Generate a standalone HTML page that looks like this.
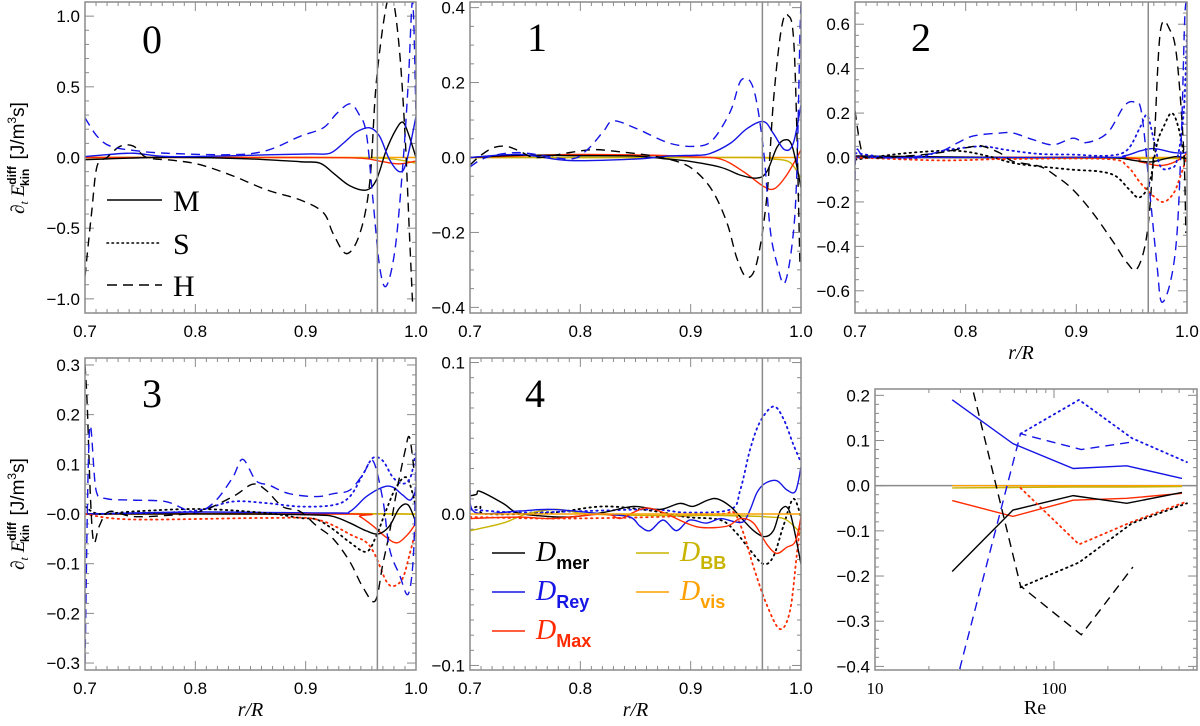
<!DOCTYPE html>
<html><head><meta charset="utf-8"><style>
html,body{margin:0;padding:0;background:#fff;width:1200px;height:726px;overflow:hidden}
svg{display:block}
</style></head><body>
<svg id="fig" width="1200" height="726" viewBox="0 0 1200 726" xmlns="http://www.w3.org/2000/svg" font-family="Liberation Sans, sans-serif"></svg>
<script>
// ---------- data ----------
const xTicksR = [0.7, 0.8, 0.9, 1.0];
const rCut = 0.965;
// panel 0
const p0_merH = [[0.7,-0.84],[0.706,-0.39],[0.711,-0.06],[0.72,0.0],[0.732,0.08],[0.744,0.08],[0.756,0],[0.78,-0.02],[0.804,-0.05],[0.834,-0.13],[0.865,-0.23],[0.895,-0.3],[0.916,-0.39],[0.925,-0.54],[0.937,-0.68],[0.949,-0.54],[0.958,-0.18],[0.964,0.53],[0.973,1.07],[0.979,1.12],[0.985,0.76],[0.99,0.17],[0.994,-0.53],[0.997,-1.05]];
const p0_reyH = [[0.7,0.28],[0.711,0.15],[0.723,0.08],[0.744,0.05],[0.774,0.03],[0.834,0.02],[0.865,0.05],[0.895,0.15],[0.916,0.21],[0.928,0.31],[0.94,0.38],[0.948,0.31],[0.955,0.17],[0.961,-0.3],[0.967,-0.77],[0.973,-0.91],[0.981,-0.65],[0.988,-0.06],[0.993,0.53],[0.997,1.1],[1.0,0.3]];
const p0_merM = [[0.7,-0.015],[0.72,-0.01],[0.76,0],[0.8,0],[0.85,-0.01],[0.895,-0.03],[0.913,-0.04],[0.925,-0.11],[0.94,-0.2],[0.955,-0.23],[0.964,-0.16],[0.973,0.05],[0.982,0.2],[0.988,0.25],[0.993,0.17],[1.0,0.0]];
const p0_reyM = [[0.7,0.007],[0.72,0.02],[0.744,0.03],[0.774,0.007],[0.82,0.01],[0.87,0.02],[0.905,0.025],[0.922,0.03],[0.934,0.1],[0.946,0.18],[0.958,0.21],[0.967,0.15],[0.976,-0.015],[0.985,-0.1],[0.991,-0.04],[1.0,0.29]];
const p0_maxM = [[0.7,0],[0.9,0],[0.95,-0.005],[0.97,-0.03],[0.985,-0.045],[1.0,-0.025]];
const p0_bbM = [[0.7,0],[0.9,0],[0.97,-0.005],[1.0,-0.04]];
const p0_visM = [[0.7,0],[1.0,0]];
// panel 1
const p1_merH = [[0.7,-0.02],[0.709,0.004],[0.721,0.026],[0.733,0.03],[0.745,0.017],[0.76,0],[0.79,0.013],[0.812,0.021],[0.836,0.015],[0.866,0.004],[0.89,-0.013],[0.905,-0.038],[0.92,-0.09],[0.933,-0.175],[0.942,-0.27],[0.951,-0.32],[0.96,-0.28],[0.969,-0.106],[0.975,0.15],[0.982,0.34],[0.988,0.38],[0.994,0.28],[0.999,-0.28]];
const p1_reyH = [[0.7,-0.025],[0.715,0],[0.745,0.013],[0.79,-0.004],[0.806,0.02],[0.821,0.07],[0.83,0.098],[0.851,0.077],[0.881,0.038],[0.905,0.03],[0.92,0.047],[0.936,0.123],[0.946,0.207],[0.957,0.183],[0.966,0.02],[0.972,-0.19],[0.978,-0.28],[0.985,-0.336],[0.992,-0.23],[0.996,-0.06],[0.999,0.32],[1.0,0.41]];
const p1_merM = [[0.7,0],[0.745,0.006],[0.8,0.005],[0.85,0.004],[0.875,-0.003],[0.896,-0.009],[0.927,-0.026],[0.945,-0.047],[0.96,-0.055],[0.969,-0.038],[0.978,0.026],[0.985,0.047],[0.992,0.03],[1.0,-0.08]];
const p1_reyM = [[0.7,0],[0.745,0.008],[0.79,-0.008],[0.85,-0.004],[0.881,0.004],[0.905,0.006],[0.917,0.01],[0.936,0.038],[0.951,0.077],[0.966,0.096],[0.975,0.064],[0.985,0.021],[0.993,0.038],[1.0,0.14]];
const p1_maxM = [[0.7,0],[0.79,0.008],[0.866,0.006],[0.9,0.002],[0.927,-0.004],[0.948,-0.038],[0.966,-0.077],[0.976,-0.083],[0.987,-0.047],[1.0,0.02]];
const p1_bbM = [[0.7,0],[0.9,0],[0.96,0],[0.975,-0.004],[0.99,-0.013],[1.0,-0.055]];
const p1_visM = [[0.7,0],[1.0,0]];
// panel 2
const p2_merH = [[0.7,0.21],[0.705,0.05],[0.71,0],[0.747,0.007],[0.777,0.022],[0.807,0.05],[0.816,0.05],[0.831,0.02],[0.843,-0.018],[0.867,-0.04],[0.882,-0.085],[0.897,-0.145],[0.915,-0.25],[0.934,-0.385],[0.946,-0.475],[0.955,-0.5],[0.964,-0.34],[0.97,0.034],[0.976,0.57],[0.985,0.57],[0.991,0.44],[0.997,0.034],[0.999,-0.34]];
const p2_reyH = [[0.7,-0.1],[0.7015,0.034],[0.71,0.004],[0.747,0],[0.777,0.027],[0.792,0.064],[0.807,0.097],[0.831,0.11],[0.843,0.11],[0.861,0.08],[0.879,0.057],[0.897,0.087],[0.909,0.067],[0.928,0.11],[0.943,0.23],[0.952,0.25],[0.959,0.2],[0.967,-0.19],[0.973,-0.49],[0.977,-0.65],[0.985,-0.56],[0.991,-0.34],[0.995,0.11],[0.998,0.63],[1.0,0.7]];
const p2_merS = [[0.7,-0.01],[0.747,0.02],[0.792,0.03],[0.822,0.004],[0.843,-0.025],[0.867,-0.04],[0.897,-0.055],[0.921,-0.063],[0.936,-0.085],[0.948,-0.145],[0.957,-0.18],[0.966,-0.115],[0.973,0.064],[0.979,0.14],[0.986,0.2],[0.992,0.14],[0.998,-0.01]];
const p2_reyS = [[0.7,0.02],[0.747,-0.007],[0.777,0.027],[0.792,0.04],[0.816,0.05],[0.837,0.034],[0.867,0.016],[0.897,0.013],[0.928,0.008],[0.946,0.034],[0.958,0.14],[0.964,0.19],[0.97,0.08],[0.976,-0.04],[0.985,-0.048],[0.991,-0.01],[0.997,0.2],[1.0,0.56]];
const p2_maxS = [[0.7,0],[0.777,-0.013],[0.837,-0.007],[0.928,-0.007],[0.946,-0.04],[0.958,-0.115],[0.97,-0.175],[0.979,-0.2],[0.988,-0.16],[0.994,-0.085],[1.0,0.004]];
const p2_merM = [[0.7,0.007],[0.837,0],[0.928,0],[0.952,-0.013],[0.967,-0.02],[0.979,-0.007],[0.991,0.004],[1.0,-0.007]];
const p2_reyM = [[0.7,0],[0.92,0],[0.943,0.007],[0.958,0.03],[0.97,0.04],[0.988,0.022],[0.997,0.02],[1.0,0.027]];
const p2_maxM = [[0.7,0],[0.93,0],[0.958,-0.02],[0.973,-0.036],[0.985,-0.028],[0.997,0.004],[1.0,0.027]];
const p2_bbM = [[0.7,0],[1.0,-0.005]];
const p2_visM = [[0.7,0],[1.0,0]];
// panel 3
const p3_merH = [[0.7,0.3],[0.702,0.22],[0.705,0.03],[0.708,-0.057],[0.713,-0.024],[0.722,0.005],[0.743,-0.005],[0.773,-0.003],[0.804,0.005],[0.834,0.035],[0.852,0.06],[0.864,0.048],[0.879,0.015],[0.895,0.005],[0.91,-0.024],[0.925,-0.05],[0.94,-0.096],[0.952,-0.148],[0.963,-0.175],[0.97,-0.1],[0.976,-0.037],[0.982,0.04],[0.99,0.126],[0.994,0.155],[0.998,0.093]];
const p3_reyH = [[0.7,-0.3],[0.704,0.165],[0.71,0.048],[0.719,0.031],[0.743,0.028],[0.773,0.025],[0.792,0.008],[0.804,0.004],[0.819,0.028],[0.834,0.074],[0.843,0.11],[0.855,0.067],[0.867,0.058],[0.885,0.041],[0.91,0.035],[0.925,0.041],[0.94,0.048],[0.952,0.08],[0.961,0.107],[0.97,0.028],[0.976,-0.07],[0.985,-0.122],[0.993,-0.161],[0.998,-0.07],[1.0,0.139]];
const p3_merS = [[0.7,0.015],[0.713,0],[0.743,0.005],[0.804,0.01],[0.864,0.002],[0.895,-0.008],[0.91,-0.011],[0.925,-0.031],[0.94,-0.057],[0.955,-0.076],[0.964,-0.044],[0.973,0.008],[0.982,0.054],[0.991,0.074],[0.997,0.041],[1.0,0.008]];
const p3_reyS = [[0.7,0],[0.773,0.003],[0.804,0.008],[0.834,0.025],[0.864,0.022],[0.895,0.015],[0.925,0.018],[0.94,0.035],[0.952,0.08],[0.961,0.113],[0.97,0.107],[0.979,0.074],[0.988,0.061],[0.995,0.074],[1.0,0.126]];
const p3_maxS = [[0.7,0],[0.743,-0.011],[0.864,-0.008],[0.91,-0.011],[0.943,-0.044],[0.955,-0.057],[0.963,-0.083],[0.973,-0.135],[0.98,-0.145],[0.988,-0.129],[0.994,-0.083],[1.0,-0.031]];
const p3_merM = [[0.7,0],[0.85,0],[0.91,-0.002],[0.925,-0.005],[0.94,-0.018],[0.955,-0.034],[0.966,-0.04],[0.976,-0.024],[0.985,0.012],[0.993,0.018],[1.0,-0.018]];
const p3_reyM = [[0.7,0],[0.804,0.004],[0.925,0.002],[0.94,0.005],[0.955,0.035],[0.97,0.054],[0.979,0.054],[0.988,0.038],[0.995,0.028],[1.0,0.048]];
const p3_maxM = [[0.7,0],[0.94,0],[0.949,-0.005],[0.961,-0.024],[0.973,-0.047],[0.983,-0.058],[0.993,-0.04],[1.0,-0.018]];
const p3_bbM = [[0.7,0],[0.99,0],[1.0,-0.018]];
const p3_visM = [[0.7,0],[1.0,0]];
// panel 4
const p4_merM = [[0.7,0.012],[0.706,0.013],[0.709,0.015],[0.73,0.007],[0.742,0.001],[0.76,-0.001],[0.79,-0.002],[0.821,0.001],[0.848,0.005],[0.872,0.003],[0.89,0.007],[0.902,0.005],[0.915,0.009],[0.924,0.01],[0.936,0.005],[0.945,-0.002],[0.957,-0.011],[0.967,-0.015],[0.975,-0.011],[0.982,0.003],[0.99,0.001],[1.0,-0.033]];
const p4_reyM = [[0.7,0.016],[0.705,0.001],[0.745,0.002],[0.775,0.003],[0.821,0],[0.845,-0.002],[0.854,-0.008],[0.863,-0.011],[0.875,-0.004],[0.887,-0.011],[0.899,-0.004],[0.914,-0.006],[0.927,-0.003],[0.939,-0.005],[0.948,-0.005],[0.954,0.003],[0.96,0.014],[0.967,0.02],[0.978,0.022],[0.987,0.016],[0.995,0.015],[1.0,0.031]];
const p4_maxM = [[0.7,-0.003],[0.745,-0.002],[0.775,-0.003],[0.821,0],[0.836,-0.003],[0.848,0.001],[0.86,0.004],[0.875,0.001],[0.896,-0.006],[0.911,-0.009],[0.933,-0.008],[0.945,-0.003],[0.957,-0.006],[0.969,-0.02],[0.978,-0.026],[0.987,-0.022],[0.995,-0.018],[1.0,-0.002]];
const p4_bbM = [[0.7,-0.011],[0.73,-0.006],[0.751,0],[0.776,0.003],[0.79,0.002],[0.806,0],[0.866,-0.001],[0.927,-0.001],[0.972,-0.002],[0.987,-0.004],[1.0,-0.013]];
const p4_visM = [[0.7,0],[1.0,0]];
const p4_merS = [[0.7,0.003],[0.709,0.005],[0.715,0],[0.775,0.001],[0.821,0.005],[0.866,0.002],[0.896,-0.002],[0.927,-0.004],[0.942,-0.013],[0.954,-0.024],[0.966,-0.033],[0.975,-0.028],[0.984,-0.008],[0.993,0.01],[1.0,-0.002]];
const p4_reyS = [[0.7,0.003],[0.745,0.001],[0.806,0.002],[0.866,0.003],[0.896,0.001],[0.936,0.003],[0.945,0.016],[0.954,0.043],[0.963,0.061],[0.975,0.071],[0.984,0.063],[0.993,0.046],[1.0,0.034]];
const p4_maxS = [[0.7,-0.002],[0.775,-0.003],[0.866,-0.002],[0.927,0],[0.939,0.001],[0.948,-0.013],[0.957,-0.035],[0.969,-0.06],[0.981,-0.076],[0.99,-0.064],[0.996,-0.028],[1.0,-0.002]];
// Re panel
const reM = [27, 59, 128, 255, 519];
const reyM_Re = [0.19, 0.093, 0.038, 0.044, 0.016];
const maxM_Re = [-0.033, -0.068, -0.032, -0.028, -0.017];
const merM_Re = [-0.19, -0.054, -0.022, -0.039, -0.015];
const bbM_Re = [-0.005, -0.004, -0.003, -0.003, -0.002];
const visM_Re = [0, 0, 0, 0, 0];
const reH = [27, 65, 142, 276];
const merH_Re = [0.40, -0.222, -0.33, -0.18];
const reyH_Re = [-0.47, 0.115, 0.08, 0.097];
const reS = [65, 138, 273, 553];
const reyS_Re = [0.115, 0.19, 0.105, 0.052];
const maxS_Re = [-0.005, -0.13, -0.08, -0.035];
const merS_Re = [-0.225, -0.17, -0.083, -0.039];
const reTicks = [10, 100];

// ---------- drawing ----------
const NS = "http://www.w3.org/2000/svg";
const svg = document.getElementById('fig');
const SERIF = 'Liberation Serif, serif';
function el(tag, attrs, parent) {
  const e = document.createElementNS(NS, tag);
  for (const k in attrs) e.setAttribute(k, attrs[k]);
  (parent || svg).appendChild(e);
  return e;
}
const COL = {mer:'#000000', rey:'#1515e6', max:'#ff2a00', bb:'#c8b400', vis:'#ffa000'};
const DASH = {M:'none', S:'1.5,4', H:'9,6'};
const FRAME = '#8a8a8a';

function fmt(v, d) { const s = Math.abs(v).toFixed(d); return (v < -1e-9 ? '\u2212' : '') + s; }

function catmull(pts) {
  if (pts.length < 2) return '';
  let d = 'M' + pts[0][0].toFixed(2) + ',' + pts[0][1].toFixed(2);
  for (let i = 0; i < pts.length - 1; i++) {
    const p0 = pts[i - 1] || pts[i], p1 = pts[i], p2 = pts[i + 1], p3 = pts[i + 2] || p2;
    const c1x = p1[0] + (p2[0] - p0[0]) / 6, c1y = p1[1] + (p2[1] - p0[1]) / 6;
    const c2x = p2[0] - (p3[0] - p1[0]) / 6, c2y = p2[1] - (p3[1] - p1[1]) / 6;
    d += 'C' + c1x.toFixed(2) + ',' + c1y.toFixed(2) + ' ' + c2x.toFixed(2) + ',' + c2y.toFixed(2) + ' ' + p2[0].toFixed(2) + ',' + p2[1].toFixed(2);
  }
  return d;
}

function panel(id, box, yr, yMajor, yMinor, yDec, label, series, opts) {
  const [L, T, R, B] = box;
  const g = el('g', {});
  
  
  const X = r => L + (r - 0.7) / 0.3 * (R - L);
  const Y = v => T + (yr - v) / (2 * yr) * (B - T);
  const cid = 'clip' + id;
  const cp = el('clipPath', {id: cid}, g);
  el('rect', {x: L, y: T, width: R - L, height: B - T}, cp);
  const tk = el('g', {stroke: FRAME, 'stroke-width': 1}, g);
  
  
  for (let i = 0; i <= 30; i++) {
    const x = X(0.7 + i * 0.01), len = (i % 10 === 0) ? 9 : 4;
    el('line', {x1: x, y1: B, x2: x, y2: B - len}, tk);
    el('line', {x1: x, y1: T, x2: x, y2: T + len}, tk);
  }
  const nmin = Math.floor(yr / yMinor + 1e-6);
  for (let i = -nmin; i <= nmin; i++) {
    const v = i * yMinor, y = Y(v);
    const maj = Math.abs(v / yMajor - Math.round(v / yMajor)) < 1e-6;
    const len = maj ? 9 : 4;
    el('line', {x1: L, y1: y, x2: L + len, y2: y}, tk);
    el('line', {x1: R, y1: y, x2: R - len, y2: y}, tk);
    if (maj) {
      const t = el('text', {x: L - 5, y: y + 6, 'text-anchor': 'end', 'font-size': 17, fill: '#000'}, g);
      
      
      t.textContent = (opts.negZero && Math.abs(v) < 1e-9) ? '\u22120.0' : fmt(v, yDec);
    }
  }
  xTicksR.forEach(r => {
    const t = el('text', {x: X(r), y: B + 24, 'text-anchor': 'middle', 'font-size': 17, fill: '#000'}, g);
    
    
    t.textContent = r.toFixed(1);
  });
  const sg = el('g', {'clip-path': 'url(#' + cid + ')', fill: 'none'}, g);
  series.forEach(s => {
    const p = el('path', {d: catmull(s.data.map(q => [X(q[0]), Y(q[1])])), stroke: COL[s.c], 'stroke-width': s.t === 'S' ? 1.8 : 1.4, 'stroke-dasharray': DASH[s.t], 'stroke-linecap': s.t === 'S' ? 'round' : 'butt'}, sg);
    
    
  });
  const vl = el('line', {x1: X(rCut), y1: T, x2: X(rCut), y2: B, stroke: FRAME, 'stroke-width': 1.5}, g);
  
  
  const fr = el('rect', {x: L, y: T, width: R - L, height: B - T, fill: 'none', stroke: FRAME, 'stroke-width': 1.5}, g);
  
  
  const lb = el('text', {x: opts.lx, y: opts.ly, 'text-anchor': 'middle', 'font-size': 40, 'font-family': SERIF, fill: '#000'}, g);
  
  
  lb.textContent = label;
  if (opts.xlabel) {
    const xl = el('text', {x: (L + R) / 2, y: B + 46, 'text-anchor': 'middle', 'font-size': 20, 'font-style': 'italic', 'font-family': SERIF, fill: '#000'}, g);
    
    
    xl.textContent = 'r/R';
  }
}

function S(c, t, data) { return {c, t, data}; }

panel('0', [85, 2, 416, 313], 1.1, 0.5, 0.1, 1, '0', [
  S('vis','M',p0_visM), S('bb','M',p0_bbM), S('max','M',p0_maxM), S('mer','M',p0_merM), S('rey','M',p0_reyM), S('mer','H',p0_merH), S('rey','H',p0_reyH)
], {lx: 152, ly: 53});
panel('1', [470, 2, 801, 313], 0.415, 0.2, 0.05, 1, '1', [
  S('vis','M',p1_visM), S('bb','M',p1_bbM), S('max','M',p1_maxM), S('mer','M',p1_merM), S('rey','M',p1_reyM), S('mer','H',p1_merH), S('rey','H',p1_reyH)
], {lx: 537, ly: 51});
panel('2', [855, 2, 1187, 313], 0.7, 0.2, 0.05, 1, '2', [
  S('vis','M',p2_visM), S('bb','M',p2_bbM), S('max','M',p2_maxM), S('mer','M',p2_merM), S('rey','M',p2_reyM), S('mer','S',p2_merS), S('rey','S',p2_reyS), S('max','S',p2_maxS), S('mer','H',p2_merH), S('rey','H',p2_reyH)
], {lx: 921, ly: 51, xlabel: true});
panel('3', [85, 358, 416, 670], 0.314, 0.1, 0.02, 1, '3', [
  S('vis','M',p3_visM), S('bb','M',p3_bbM), S('max','M',p3_maxM), S('mer','M',p3_merM), S('rey','M',p3_reyM), S('mer','S',p3_merS), S('rey','S',p3_reyS), S('max','S',p3_maxS), S('mer','H',p3_merH), S('rey','H',p3_reyH)
], {lx: 152, ly: 407, xlabel: true, negZero: true});
panel('4', [470, 358, 801, 670], 0.103, 0.1, 0.01, 1, '4', [
  S('mer','S',p4_merS), S('rey','S',p4_reyS), S('max','S',p4_maxS), S('bb','M',p4_bbM), S('mer','M',p4_merM), S('rey','M',p4_reyM), S('max','M',p4_maxM), S('vis','M',p4_visM)
], {lx: 535, ly: 407, xlabel: true});

// Re panel
(function () {
  const L = 875, T = 389, R = 1197, B = 670, ymax = 0.214, ymin = -0.408;
  const g = el('g', {});
  
  
  const X = re => L + Math.log10(re / 10) * 179;
  const Y = v => T + (ymax - v) / (ymax - ymin) * (B - T);
  const cp = el('clipPath', {id: 'clipRe'}, g);
  el('rect', {x: L, y: T, width: R - L, height: B - T}, cp);
  const tk = el('g', {stroke: FRAME, 'stroke-width': 1}, g);
  
  
  for (let dec = 10; dec <= 100; dec *= 10) {
    for (let m = 1; m <= 9; m++) {
      const re = dec * m, x = X(re);
      if (x > R) continue;
      const len = m === 1 ? 9 : 4;
      el('line', {x1: x, y1: B, x2: x, y2: B - len}, tk);
      el('line', {x1: x, y1: T, x2: x, y2: T + len}, tk);
    }
  }
  for (let i = -20; i <= 10; i++) {
    const v = i * 0.02, y = Y(v);
    const maj = i % 5 === 0, len = maj ? 9 : 4;
    el('line', {x1: L, y1: y, x2: L + len, y2: y}, tk);
    el('line', {x1: R, y1: y, x2: R - len, y2: y}, tk);
    if (maj) {
      const t = el('text', {x: L - 5, y: y + 6, 'text-anchor': 'end', 'font-size': 17}, g);
      
      
      t.textContent = fmt(v, 1);
    }
  }
  reTicks.forEach(re => {
    const t = el('text', {x: X(re), y: B + 24, 'text-anchor': 'middle', 'font-size': 17, 'font-family': SERIF}, g);
    
    
    t.textContent = String(re);
  });
  const zl = el('line', {x1: L, y1: Y(0), x2: R, y2: Y(0), stroke: FRAME, 'stroke-width': 1.5}, g);
  
  
  const sg = el('g', {'clip-path': 'url(#clipRe)', fill: 'none'}, g);
  const list = [
    ['vis','M',reM,visM_Re], ['bb','M',reM,bbM_Re], ['rey','M',reM,reyM_Re], ['max','M',reM,maxM_Re], ['mer','M',reM,merM_Re],
    ['rey','S',reS,reyS_Re], ['max','S',reS,maxS_Re], ['mer','S',reS,merS_Re],
    ['mer','H',reH,merH_Re], ['rey','H',reH,reyH_Re]
  ];
  list.forEach(([c, t, xs, ys]) => {
    const pts = xs.map((x, i) => X(x).toFixed(2) + ',' + Y(ys[i]).toFixed(2)).join(' ');
    const p = el('polyline', {points: pts, stroke: COL[c], 'stroke-width': t === 'S' ? 1.8 : 1.4, 'stroke-dasharray': DASH[t], 'stroke-linecap': t === 'S' ? 'round' : 'butt'}, sg);
    
    
  });
  const fr = el('rect', {x: L, y: T, width: R - L, height: B - T, fill: 'none', stroke: FRAME, 'stroke-width': 1.5}, g);
  
  
  const xl = el('text', {x: 1035, y: 714, 'text-anchor': 'middle', 'font-size': 20, 'font-family': SERIF}, g);
  
  
  xl.textContent = 'Re';
})();

// y-axis titles
[158, 514].forEach((cy) => {
  const t = el('text', {transform: 'translate(24,' + cy + ') rotate(-90)', 'text-anchor': 'middle', 'font-size': 19, 'font-family': SERIF});
  
  
  t.innerHTML = '∂<tspan font-size="12" font-style="italic" dy="4">t</tspan><tspan dy="-4"> </tspan><tspan font-style="italic">E</tspan><tspan font-size="12" font-family="Liberation Sans, sans-serif" font-weight="bold" dy="-8">diff</tspan><tspan font-size="12" font-family="Liberation Sans, sans-serif" font-weight="bold" dx="-20" dy="13">kin</tspan><tspan dy="-5" dx="4" font-family="Liberation Sans, sans-serif"> [J/m</tspan><tspan font-size="12" dy="-8" font-family="Liberation Sans, sans-serif">3</tspan><tspan dy="8" font-family="Liberation Sans, sans-serif">s]</tspan>';
});

// legend panel 0 (line styles)
[['M','M',200],['S','S',243],['H','H',285]].forEach(([t, txt, y]) => {
  const g = el('g', {});
  
  
  el('line', {x1: 107, y1: y, x2: 162, y2: y, stroke: '#000', 'stroke-width': 1.6, 'stroke-dasharray': t === 'S' ? '1.5,3.5' : (t === 'H' ? '10,6' : 'none'), 'stroke-linecap': t === 'S' ? 'round' : 'butt'}, g);
  const tx = el('text', {x: 173, y: y + 11, 'font-size': 30, 'font-family': SERIF}, g);
  tx.textContent = txt;
});

// legend panel 4 (colors)
[['mer',492,553,'mer'],['rey',492,592,'Rey'],['max',492,631,'Max'],['bb',636,553,'BB'],['vis',636,592,'vis']].forEach(([c, x, y, sub]) => {
  const g = el('g', {});
  
  
  el('line', {x1: x, y1: y, x2: x + 33, y2: y, stroke: COL[c], 'stroke-width': 1.6}, g);
  const tx = el('text', {x: x + 44, y: y + 8, 'font-size': 28, 'font-style': 'italic', 'font-family': SERIF, fill: COL[c]}, g);
  tx.innerHTML = 'D<tspan font-size="18" font-style="normal" font-weight="bold" font-family="Liberation Sans, sans-serif" dy="8">' + sub + '</tspan>';
});
</script>
</body></html>
